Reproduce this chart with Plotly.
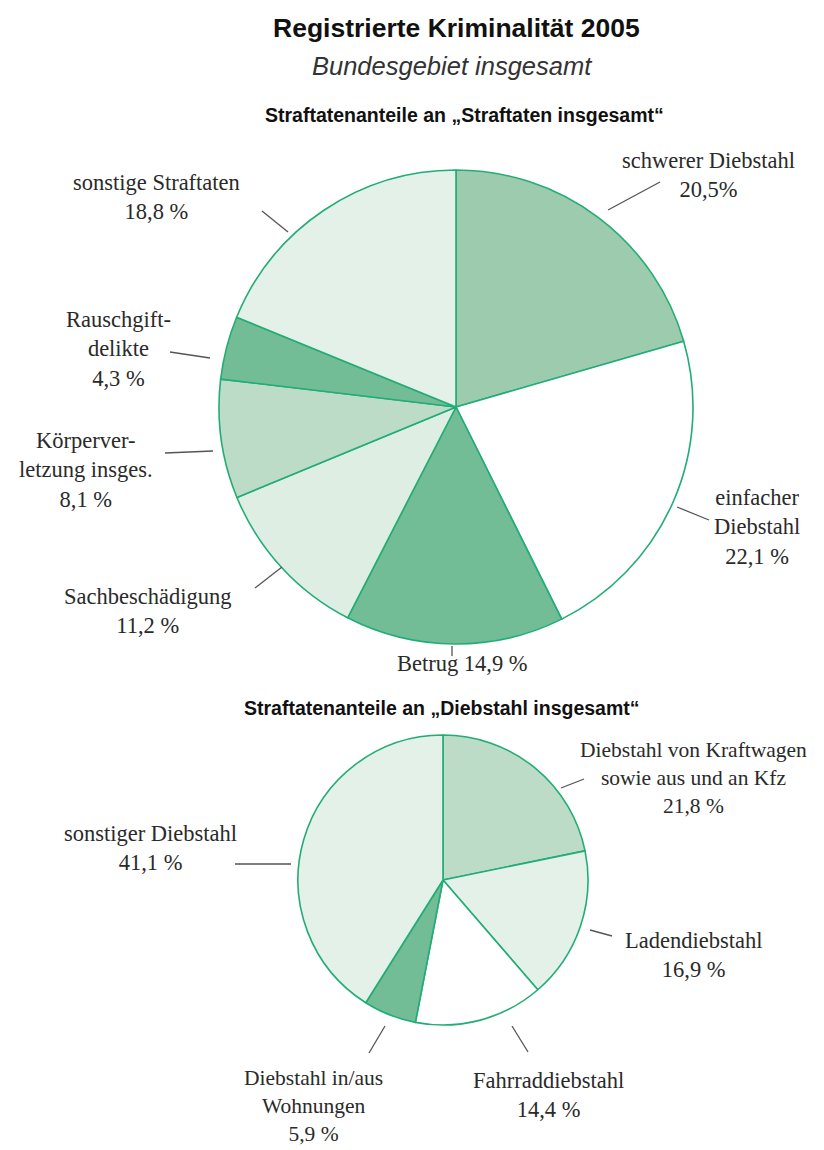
import plotly.graph_objects as go

# Data: top pie (share of all offences), clockwise from 12 o'clock
top_labels = ["schwerer Diebstahl", "einfacher Diebstahl", "Betrug", "Sachbeschädigung",
              "Körperverletzung insges.", "Rauschgiftdelikte", "sonstige Straftaten"]
top_values = [20.5, 22.1, 14.9, 11.2, 8.1, 4.3, 18.8]
top_colors = ["#9dcbad", "#ffffff", "#73bd96", "#deeee3", "#bcdcc8", "#73bd96", "#e3f1e8"]

# Data: bottom pie (share of all theft)
bot_labels = ["Diebstahl von Kraftwagen sowie aus und an Kfz", "Ladendiebstahl",
              "Fahrraddiebstahl", "Diebstahl in/aus Wohnungen", "sonstiger Diebstahl"]
bot_values = [21.8, 16.9, 14.4, 5.9, 41.1]
bot_colors = ["#bcdcc8", "#e3f1e8", "#ffffff", "#73bd96", "#e3f1e8"]

LINE = "#22ad76"

# page body has an 8px default margin
OFF = 8
W, H = 824 - OFF, 1150 - OFF

def px(x):
    return (x - OFF) / W

def py(y):
    return 1 - (y - OFF) / H

fig = go.Figure()
fig.add_trace(go.Pie(
    labels=top_labels, values=top_values, sort=False, direction="clockwise", rotation=0,
    marker=dict(colors=top_colors, line=dict(color=LINE, width=1.6)),
    textinfo="none", showlegend=False,
    domain=dict(x=[px(219), px(693)], y=[py(644), py(170)]),
))
fig.add_trace(go.Pie(
    labels=bot_labels, values=bot_values, sort=False, direction="clockwise", rotation=0,
    marker=dict(colors=bot_colors, line=dict(color=LINE, width=1.6)),
    textinfo="none", showlegend=False,
    domain=dict(x=[px(298), px(588)], y=[py(1025), py(735)]),
))

SERIF = "Liberation Serif"
annotations = []

def txt(x, y, text, size=22.5, family=SERIF, color="#2a2a2a"):
    annotations.append(dict(x=px(x), y=py(y), xref="paper", yref="paper", text=text,
                            showarrow=False, xanchor="center", yanchor="middle",
                            font=dict(family=family, size=size, color=color), align="center"))

txt(456, 28, "<b>Registrierte Kriminalität 2005</b>", size=26.5, family="Liberation Sans", color="#111")
txt(452, 66, "<i>Bundesgebiet insgesamt</i>", size=25.5, family="Liberation Sans", color="#333")
txt(464, 115, "<b>Straftatenanteile an „Straftaten insgesamt“</b>", size=19.5,
    family="Liberation Sans", color="#111")
txt(442, 708, "<b>Straftatenanteile an „Diebstahl insgesamt“</b>", size=19.5,
    family="Liberation Sans", color="#111")

txt(708, 175, "schwerer Diebstahl<br>20,5%")
txt(156, 197, "sonstige Straftaten<br>18,8 %")
txt(118, 349, "Rauschgift-<br>delikte<br>4,3 %")
txt(86, 470, "Körperver-<br>letzung insges.<br>8,1 %")
txt(757, 527, "einfacher<br>Diebstahl<br>22,1 %")
txt(147, 611, "Sachbeschädigung<br>11,2 %")
txt(462, 664, "Betrug 14,9 %")

txt(693, 778, "Diebstahl von Kraftwagen<br>sowie aus und an Kfz<br>21,8 %", size=21.5)
txt(693, 955, "Ladendiebstahl<br>16,9 %")
txt(150, 848, "sonstiger Diebstahl<br>41,1 %")
txt(548, 1095, "Fahrraddiebstahl<br>14,4 %")
txt(313, 1106, "Diebstahl in/aus<br>Wohnungen<br>5,9 %", size=21.5)

leaders = [
    ((608, 210), (660, 182)),
    ((262, 211), (288, 232)),
    ((170, 352), (210, 358)),
    ((165, 453), (213, 451)),
    ((677, 507), (709, 520)),
    ((255, 588), (282, 567)),
    ((452, 646), (452, 656)),
    ((561, 788), (584, 779)),
    ((590, 930), (612, 936)),
    ((235, 864), (291, 864)),
    ((512, 1026), (528, 1052)),
    ((385, 1026), (369, 1053)),
]
shapes = [dict(type="line", xref="paper", yref="paper", x0=px(a[0]), y0=py(a[1]),
               x1=px(b[0]), y1=py(b[1]), line=dict(color="#555", width=1.3))
          for a, b in leaders]

fig.update_layout(width=W, height=H, margin=dict(l=0, r=0, t=0, b=0),
                  paper_bgcolor="white", plot_bgcolor="white",
                  annotations=annotations, shapes=shapes)
fig.write_html("out.html")
